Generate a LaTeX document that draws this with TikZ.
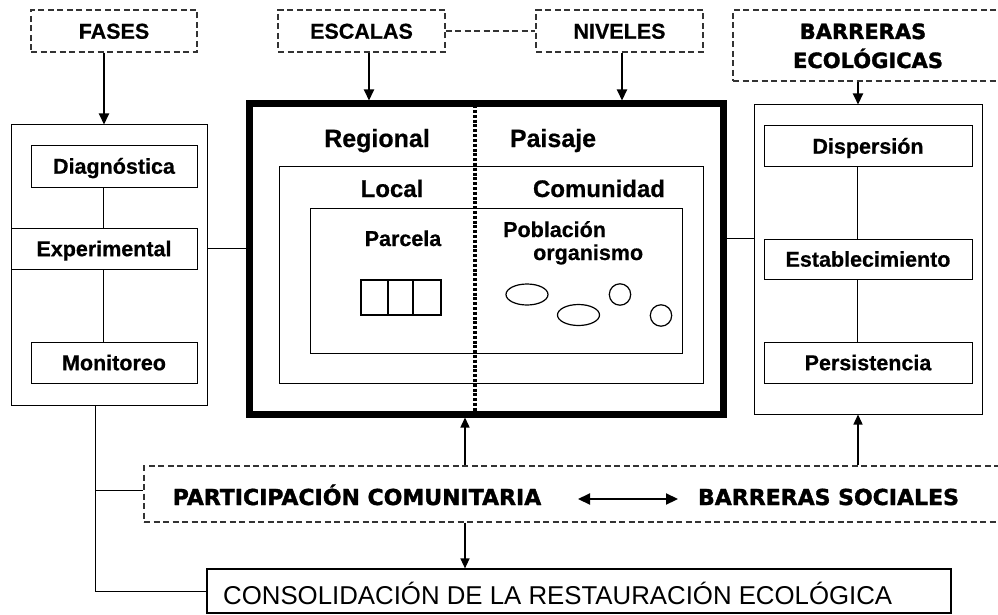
\documentclass[tikz,border=0pt]{standalone}
\usepackage{fontspec}
\setmainfont{Liberation Sans}[BoldFeatures={FakeBold=0.6}]
\newfontfamily\heavyfont{DejaVu Sans}[BoldFeatures={FakeBold=1.6}]
\usetikzlibrary{arrows.meta,calc}
\newcommand{\fsz}[1]{\fontsize{#1}{#1}\selectfont}
\begin{document}
\begin{tikzpicture}[x=1pt,y=-1pt,
  box/.style={draw, line width=1pt, inner sep=0pt},
  dbox/.style={draw=black!80, line width=1.1pt, dash pattern=on 6pt off 3.5pt, inner sep=0pt},
  lbl/.style={box, font=\fsz{21.5}\bfseries, text height=15.4pt, text depth=0pt},
  txt/.style={inner sep=0pt, font=\fsz{21.5}\bfseries},
  heavy/.style={inner sep=0pt, font=\heavyfont\fsz{#1}\bfseries},
  arr/.style={line width=2pt, -{Triangle[length=11pt,width=10pt]}},
  arrs/.style={line width=1.4pt, -{Triangle[length=10pt,width=9pt]}},
  conn/.style={line width=1pt},
]
\clip (0,0) rectangle (998,615);
\fill[white] (0,0) rectangle (998,615);

% top label boxes
\node[dbox, txt, minimum width=166pt, minimum height=42pt, text height=15.4pt, text depth=0pt] (fases) at (114,31) {FASES};
\node[dbox, txt, minimum width=167pt, minimum height=42pt, text height=15.4pt, text depth=0pt] (escalas) at (361.5,31) {ESCALAS};
\node[dbox, txt, minimum width=167pt, minimum height=42pt, text height=15.4pt, text depth=0pt] (niveles) at (619.5,31) {NIVELES};
\node[dbox, minimum width=267pt, minimum height=71pt] (barreco) at (866.5,45.5) {};
\node[heavy=21, anchor=base] (barrecoA) at (863,39) {BARRERAS};
\node[heavy=21, anchor=base] (barrecoB) at (868,68) {ECOLÓGICAS};
\draw[draw=black!80, line width=1.1pt, dash pattern=on 6pt off 3.5pt] (escalas.east) -- (niveles.west);

% main scales box
\node[draw, line width=7pt, minimum width=474pt, minimum height=310pt, inner sep=0pt] (main) at (486,259) {};
\node[box, minimum width=424pt, minimum height=217pt] (mid) at (491,274.5) {};
\node[box, minimum width=372pt, minimum height=145pt] (inner) at (496,280.5) {};
\draw[line width=3.5pt, dash pattern=on 3pt off 1.8pt] ([xshift=-11pt]main.north) -- ([xshift=-11pt]main.south);

\node[txt, font=\fsz{25}\bfseries, anchor=base] (regional) at (377,147) {Regional};
\node[txt, font=\fsz{25}\bfseries, anchor=base] (paisaje) at (553,147) {Paisaje};
\node[txt, font=\fsz{24}\bfseries, anchor=base] (local) at (392,197) {Local};
\node[txt, font=\fsz{24}\bfseries, anchor=base] (comunidad) at (599,197) {Comunidad};
\node[txt, anchor=base] (parcela) at (403,246) {Parcela};
\node[txt, anchor=base west] (poblacion) at (503,237) {Población};
\node[txt, anchor=base west] (organismo) at (533,260) {organismo};

\node[draw, line width=1.5pt, inner sep=0pt, minimum width=80pt, minimum height=35pt] (cells) at (401,297.5) {};
\draw[line width=1.5pt] ([xshift=-13pt]cells.north) -- ([xshift=-13pt]cells.south);
\draw[line width=1.5pt] ([xshift=12pt]cells.north) -- ([xshift=12pt]cells.south);
\draw[line width=1.2pt] (527,294.5) ellipse [x radius=21, y radius=10.5];
\draw[line width=1.2pt] (578.5,315) ellipse [x radius=21, y radius=10.5];
\draw[line width=1.2pt] (620,294.5) circle [radius=10.7];
\draw[line width=1.2pt] (661,315.5) circle [radius=10.7];

% left column
\node[box, minimum width=196pt, minimum height=280pt] (leftbox) at (109,265) {};
\node[lbl, minimum width=166pt, minimum height=42pt] (diag) at (114,166) {Diagnóstica};
\node[lbl, minimum width=186pt, minimum height=41pt, fill=white] (exper) at (104,248.5) {Experimental};
\node[lbl, minimum width=166pt, minimum height=41pt] (monit) at (114,362.5) {Monitoreo};
\draw[conn] ([xshift=-1pt]exper.north |- diag.south) -- ([xshift=-1pt]exper.north);
\draw[conn] ([xshift=-1pt]exper.south) -- ([xshift=-1pt]exper.south |- monit.north);

% right column
\node[box, minimum width=228pt, minimum height=309pt] (rightbox) at (868,259.5) {};
\node[lbl, minimum width=208pt, minimum height=40pt] (disp) at (868,146) {Dispersión};
\node[lbl, minimum width=208pt, minimum height=40pt] (estab) at (868,259) {Establecimiento};
\node[lbl, minimum width=208pt, minimum height=41pt] (pers) at (868,362.5) {Persistencia};
\draw[conn] ([xshift=-11pt]disp.south) -- ([xshift=-11pt]estab.north);
\draw[conn] ([xshift=-11pt]estab.south) -- ([xshift=-11pt]pers.north);

% side connections
\draw[conn] (leftbox.east |- exper.center) -- (main.west |- exper.center);
\draw[conn] ([yshift=21pt]main.east) -- ([yshift=21pt]main.east -| rightbox.west);

% top arrows
\draw[arr] ([xshift=-10pt]fases.south) -- ([xshift=-10pt]fases.south |- leftbox.north);
\draw[arr] ([xshift=7.5pt]escalas.south) -- ([xshift=7.5pt]escalas.south |- main.north);
\draw[arr] ([xshift=2.5pt]niveles.south) -- ([xshift=2.5pt]niveles.south |- main.north);
\draw[arr] ([xshift=-10pt]rightbox.north |- barreco.south) -- ([xshift=-10pt]rightbox.north);

% bottom
\node[dbox, minimum width=856pt, minimum height=56pt] (partic) at (572,494) {};
\node[heavy=22, text height=16pt, text depth=0pt] (pc) at (357,497) {PARTICIPACIÓN COMUNITARIA};
\node[heavy=22, text height=16pt, text depth=0pt] (bs) at (828.5,497) {BARRERAS SOCIALES};
\draw[line width=2.2pt, {Triangle[length=12pt,width=11pt]}-{Triangle[length=12pt,width=11pt]}] (578,499) -- (678,499);

\node[box, line width=1.2pt, minimum width=744pt, minimum height=44pt] (consol) at (579,591) {};
\node[inner sep=0pt, anchor=base west, font=\fsz{25.8}] (consolt) at (223,604) {CONSOLIDACIÓN DE LA RESTAURACIÓN ECOLÓGICA};

\draw[arrs] ([xshift=-107pt]partic.north) -- ([xshift=-107pt]partic.north |- main.south);
\draw[arrs] ([xshift=-10pt]rightbox.south |- partic.north) -- ([xshift=-10pt]rightbox.south);
\draw[arrs] ([xshift=-107pt]partic.south) -- ([xshift=-107pt]partic.south |- consol.north);

\draw[conn] ([xshift=-14pt]leftbox.south) |- (consol.west);
\draw[conn] ([xshift=-14pt,yshift=4pt]leftbox.south |- partic.west) -- ([yshift=4pt]partic.west);
\end{tikzpicture}
\end{document}
